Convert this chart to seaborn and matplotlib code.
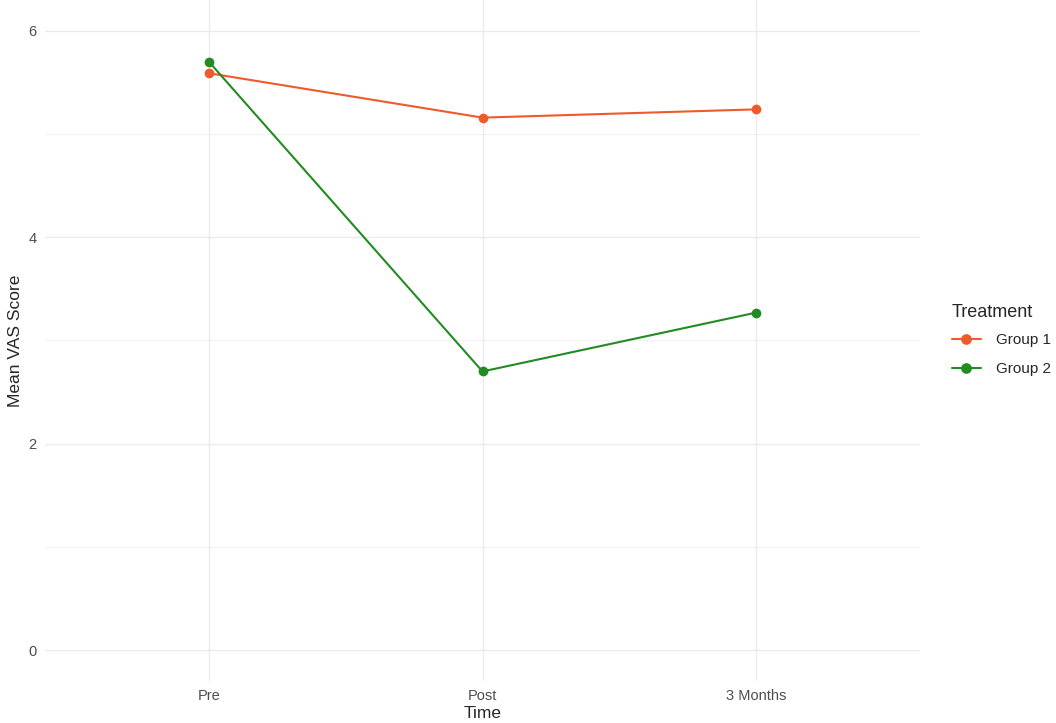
import pandas as pd
import numpy as np
import matplotlib.pyplot as plt
import seaborn as sns

time_points = ['Pre', 'Post', '3 Months']
group1_vas = [5.59, 5.16, 5.24]
group2_vas = [5.70, 2.70, 3.27]
groups = ['Group 1', 'Group 2']
colors = {'Group 1': '#EE5A2B', 'Group 2': '#228B22'}

df = pd.DataFrame({
    'Time': time_points * 2,
    'Mean VAS Score': group1_vas + group2_vas,
    'Treatment': [groups[0]] * 3 + [groups[1]] * 3,
})

sns.set_style('white')
plt.rcParams['font.family'] = ['Liberation Sans', 'DejaVu Sans']

fig = plt.figure(figsize=(10.56, 7.23), dpi=100)
ax = fig.add_axes([45 / 1056, 42 / 723, 875 / 1056, 681 / 723])

sns.lineplot(data=df, x='Time', y='Mean VAS Score', hue='Treatment',
             palette=colors, marker='o', markersize=7, markeredgewidth=0,
             linewidth=1.5, sort=False, ax=ax, zorder=3)

ax.set_xlim(-0.6, 2.6)
ax.set_ylim(-0.3, 6.3)
ax.set_yticks([0, 2, 4, 6])
ax.set_yticks([1, 3, 5], minor=True)
ax.grid(which='major', color='#EBEBEB', linewidth=1.0)
ax.grid(which='minor', axis='y', color='#EFEFEF', linewidth=0.6)
ax.set_axisbelow(True)
for s in ax.spines.values():
    s.set_visible(False)
ax.tick_params(which='both', length=0, labelsize=10.5, labelcolor='#4D4D4D', pad=6)
ax.set_xlabel('Time', fontsize=12.5, labelpad=2)
ax.set_ylabel('Mean VAS Score', fontsize=12.5, labelpad=4)

handles, labels = ax.get_legend_handles_labels()
ax.legend_.remove()
leg = fig.legend(handles, labels, title='Treatment', loc='center left',
                 bbox_to_anchor=(938 / 1056, 1 - 340 / 723), frameon=False,
                 fontsize=11, title_fontsize=13, handlelength=1.9,
                 handletextpad=1.0, labelspacing=1.0, markerscale=1.1)
leg._legend_box.align = 'left'
leg._legend_box.sep = 9

fig.savefig('out.png', dpi=100)
